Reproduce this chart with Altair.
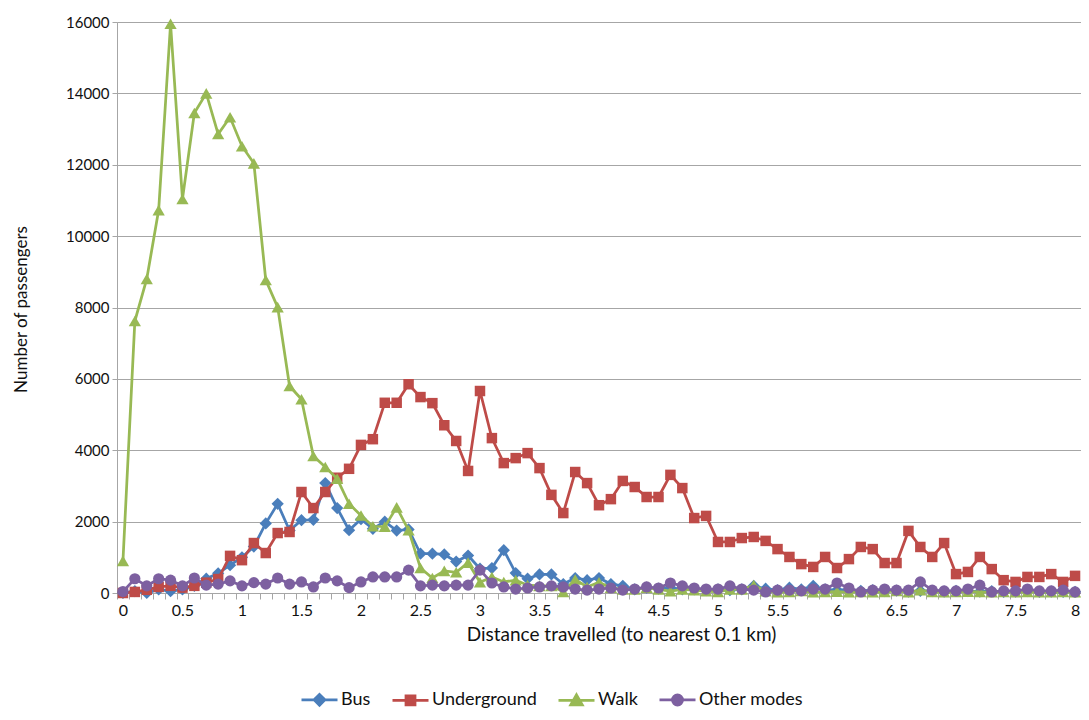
import altair as alt
import pandas as pd

# Category axis: distance travelled, to nearest 0.1 km (0.0 .. 8.0)
distances = [round(i * 0.1, 1) for i in range(81)]

modes = ["Bus", "Underground", "Walk", "Other modes"]
colors = ["#4A7EBB", "#BE4B48", "#98B954", "#7D60A0"]
shapes = ["diamond", "square", "triangle-up", "circle"]
marker_sizes = [150, 110, 150, 125]

bus = [0, 50, 0, 100, 50, 100, 200, 400, 550, 780,
       1000, 1300, 1950, 2500, 1750, 2040, 2050, 3080, 2380, 1760,
       2070, 1800, 2000, 1750, 1780, 1100, 1100, 1080, 880, 1050,
       680, 700, 1200, 560, 400, 520, 520, 250, 420, 360,
       420, 250, 200, 100, 150, 120, 150, 100, 100, 80,
       100, 80, 100, 200, 120, 80, 150, 100, 200, 100,
       80, 100, 60, 80, 50, 70, 40, 60, 50, 40,
       60, 50, 40, 50, 30, 40, 50, 30, 40, 30, 30]

underground = [0, 30, 90, 170, 200, 150, 200, 290, 390, 1040,
               920, 1400, 1120, 1680, 1710, 2830, 2380, 2830, 3230, 3480,
               4150, 4310, 5330, 5330, 5850, 5490, 5320, 4700, 4260, 3420,
               5660, 4340, 3640, 3780, 3920, 3500, 2750, 2240, 3390, 3080,
               2460, 2630, 3140, 2970, 2690, 2690, 3310, 2940, 2100, 2160,
               1430, 1430, 1540, 1570, 1460, 1230, 1010, 810, 730, 1010,
               700, 950, 1290, 1230, 840, 840, 1740, 1290, 1010, 1400,
               530, 590, 1010, 670, 360, 310, 450, 450, 530, 310, 480]

walk = [900, 7620, 8800, 10730, 15950, 11040, 13450, 14000, 12860, 13330,
        12520, 12040, 8770, 8010, 5800, 5430, 3840, 3530, 3200, 2500,
        2170, 1870, 1860, 2400, 1760, 700, 420, 620, 580, 850,
        300, 450, 310, 360, 220, 200, 200, 30, 380, 170,
        300, 150, 100, 100, 150, 100, 50, 100, 80, 50,
        30, 100, 100, 220, 50, 20, 30, 60, 20, 30,
        40, 20, 30, 20, 30, 60, 20, 80, 30, 20,
        30, 40, 30, 20, 30, 20, 30, 20, 20, 30, 20]

other = [40, 400, 200, 400, 360, 200, 420, 220, 250, 340,
         200, 290, 250, 420, 250, 310, 170, 420, 340, 150,
         310, 450, 450, 450, 640, 200, 220, 200, 220, 220,
         640, 280, 170, 110, 140, 170, 200, 170, 110, 80,
         110, 140, 80, 110, 170, 140, 280, 200, 140, 110,
         110, 200, 110, 80, 30, 80, 80, 60, 110, 110,
         280, 140, 30, 80, 110, 80, 80, 310, 80, 60,
         60, 110, 220, 30, 60, 60, 110, 60, 60, 80, 30]

series = {"Bus": bus, "Underground": underground, "Walk": walk, "Other modes": other}

rows = []
for m in modes:
    for d, v in zip(distances, series[m]):
        rows.append({"Distance": d, "Passengers": v, "Mode": m})
df = pd.DataFrame(rows)

# legend symbols: a line segment through the marker
legend_paths = [
    "M-1,0L1,0M0,-0.3L0.3,0L0,0.3L-0.3,0Z",
    "M-1,0L1,0M-0.25,-0.25L0.25,-0.25L0.25,0.25L-0.25,0.25Z",
    "M-1,0L1,0M0,-0.3L0.32,0.25L-0.32,0.25Z",
    "M-1,0L1,0M0.28,0A0.28,0.28,0,1,1,-0.28,0A0.28,0.28,0,1,1,0.28,0Z",
]

axis_grey = "#a6a6a6"

x_axis = alt.Axis(
    title="Distance travelled (to nearest 0.1 km)",
    labelExpr="(round(datum.value*10) % 5 == 0) ? datum.label : ''",
    labelAngle=0, labelFontSize=16, labelColor="#111", labelPadding=3,
    tickBand="extent", ticks=True, tickSize=6, tickColor=axis_grey,
    domainColor=axis_grey, grid=False,
    titleFontSize=19, titleFontWeight="normal", titleColor="#111",
    titleX=504, titleY=41, titleBaseline="middle",
)
y_axis = alt.Axis(
    title="Number of passengers",
    values=list(range(0, 16001, 2000)), format="d",
    labelFontSize=15, labelColor="#111", labelPadding=3,
    tickSize=5, tickColor=axis_grey, domainColor=axis_grey,
    grid=True, gridColor=axis_grey, gridWidth=1,
    titleFontSize=17, titleFontWeight="normal", titleColor="#111",
    titleX=-96, titleY=287, titleBaseline="middle",
)

x = alt.X("Distance:O", sort="ascending",
          scale=alt.Scale(type="band", paddingInner=0, paddingOuter=0),
          bandPosition=0.5, axis=x_axis)
y = alt.Y("Passengers:Q", scale=alt.Scale(domain=[0, 16000], nice=False), axis=y_axis)
color = alt.Color("Mode:N", scale=alt.Scale(domain=modes, range=colors), legend=None)

base = alt.Chart(df)
layers = []
for m, shp, sz in zip(modes, shapes, marker_sizes):
    sub = base.transform_filter(alt.datum.Mode == m)
    layers.append(sub.mark_line(strokeWidth=2.75).encode(x=x, y=y, color=color))
    layers.append(sub.mark_point(filled=True, opacity=1, size=sz, shape=shp, strokeWidth=0)
                  .encode(x=x, y=y, color=color))

leg = alt.Legend(orient="none", direction="horizontal", legendX=183, legendY=658,
                 columns=4, title=None, labelFontSize=18, labelColor="#111",
                 symbolSize=1296, symbolStrokeWidth=2.75, symbolOpacity=1,
                 columnPadding=16, labelOffset=2)

legend_layer = base.mark_point(filled=True, opacity=0).encode(
    x=x, y=y,
    fill=alt.Fill("Mode:N", scale=alt.Scale(domain=modes, range=colors), legend=leg),
    stroke=alt.Stroke("Mode:N", scale=alt.Scale(domain=modes, range=colors), legend=leg),
    shape=alt.Shape("Mode:N", scale=alt.Scale(domain=modes, range=legend_paths), legend=leg),
)

chart = alt.layer(legend_layer, *layers).properties(
    width=964, height=571,
    padding={"left": 109, "top": 14, "right": 0, "bottom": 119},
    autosize=alt.AutoSizeParams(type="none"),
).configure_view(stroke=None).configure(font="Lato")

chart.save("out.html", embed_options={"renderer": "svg", "actions": False})
